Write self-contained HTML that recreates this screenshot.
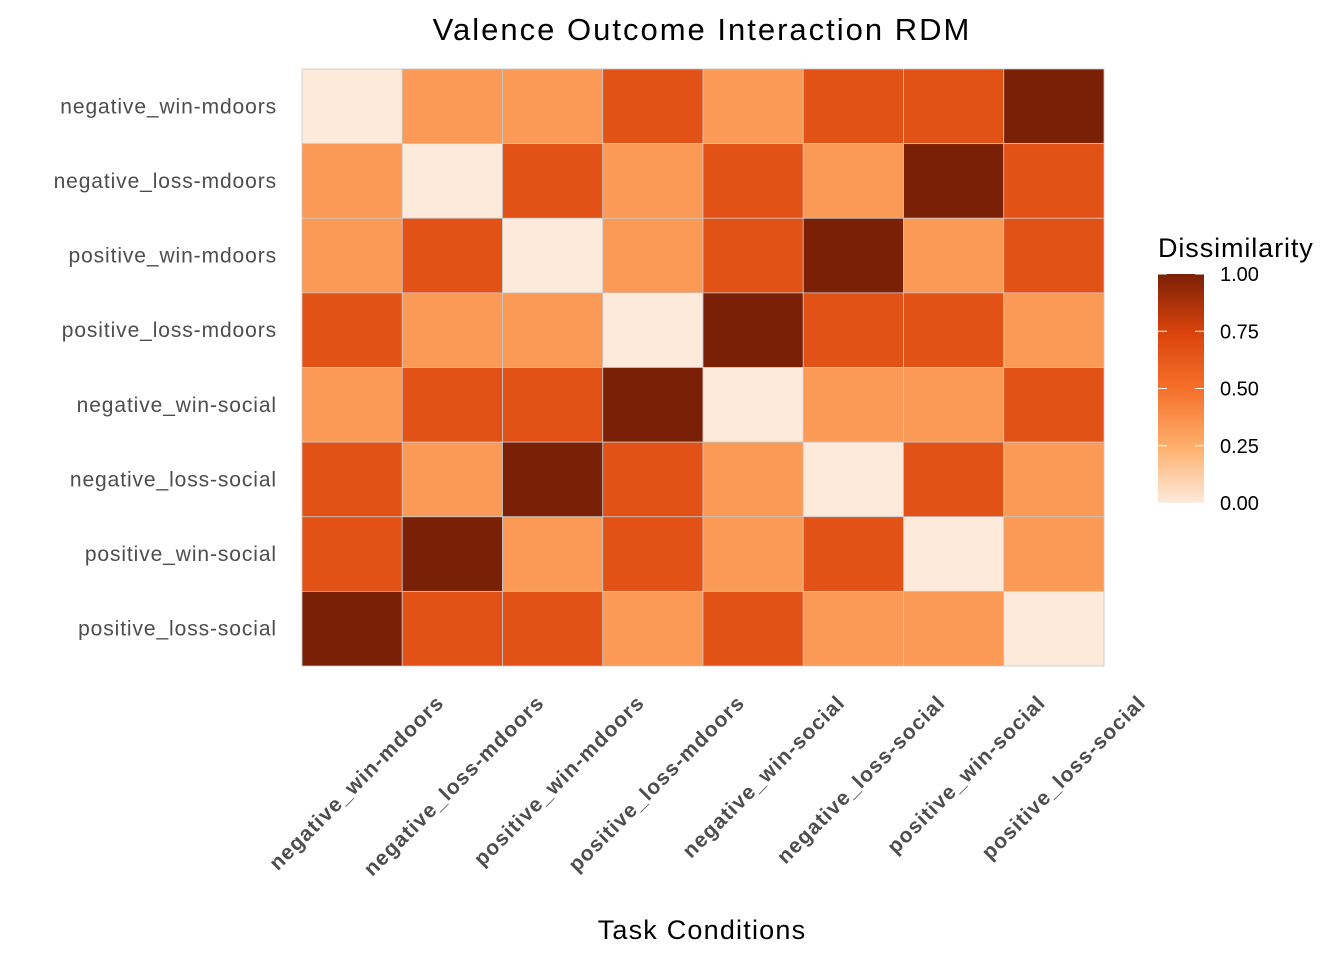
<!DOCTYPE html>
<html><head><meta charset="utf-8">
<style>
html,body{margin:0;padding:0;background:#fff;}
svg text{font-family:"Liberation Sans",Arial,sans-serif;}
</style></head>
<body>
<svg id="chart" width="1344" height="960" viewBox="0 0 1344 960">
<defs>
<linearGradient id="cbar" x1="0" y1="1" x2="0" y2="0">
<stop offset="0" stop-color="#fdeadb"/>
<stop offset="0.25" stop-color="#fdae6b"/>
<stop offset="0.5" stop-color="#f6702a"/>
<stop offset="0.75" stop-color="#d9420b"/>
<stop offset="1" stop-color="#7a2006"/>
</linearGradient>
</defs>
<text x="702" y="40" text-anchor="middle" font-size="31" letter-spacing="2" fill="#000">Valence Outcome Interaction RDM</text>
<g id="cells"></g>
<g id="ylabels"></g>
<g id="xlabels"></g>
<text x="702" y="939" text-anchor="middle" font-size="27" letter-spacing="1.2" fill="#000">Task Conditions</text>
<g>
<text x="1158" y="257" font-size="27" letter-spacing="0.9" fill="#000">Dissimilarity</text>
<rect x="1158" y="274" width="46" height="229" fill="url(#cbar)"/>
<g id="cticks"></g>
</g>
</svg>
<script>
const labels = ["negative_win-mdoors","negative_loss-mdoors","positive_win-mdoors","positive_loss-mdoors","negative_win-social","negative_loss-social","positive_win-social","positive_loss-social"];
const values = [
[0,.33,.33,.67,.33,.67,.67,1],
[.33,0,.67,.33,.67,.33,1,.67],
[.33,.67,0,.33,.67,1,.33,.67],
[.67,.33,.33,0,1,.67,.67,.33],
[.33,.67,.67,1,0,.33,.33,.67],
[.67,.33,1,.67,.33,0,.67,.33],
[.67,1,.33,.67,.33,.67,0,.33],
[1,.67,.67,.33,.67,.33,.33,0]
];
const legendTicks = [0,0.25,0.5,0.75,1];
const legendTickLabels = ["0.00","0.25","0.50","0.75","1.00"];

const NS="http://www.w3.org/2000/svg";
const X0=302,X1=1104,Y0=69,Y1=666;
const cw=(X1-X0)/labels.length, ch=(Y1-Y0)/labels.length;
const xPos=i=>X0+i*cw, yPos=i=>Y0+i*ch;
const stops=[[0,[253,234,219]],[0.25,[253,174,107]],[0.5,[246,112,42]],[0.75,[217,66,11]],[1,[122,32,6]]];
function color(v){
  for(let k=1;k<stops.length;k++){ if(v<=stops[k][0]){const a=stops[k-1],b=stops[k];const t=(v-a[0])/(b[0]-a[0]);
    const c=a[1].map((x,j)=>Math.round(x+(b[1][j]-x)*t));return `rgb(${c})`;}}
  return "rgb(122,32,6)";
}
const cells=document.getElementById('cells');
values.forEach((row,r)=>row.forEach((v,c)=>{
  const el=document.createElementNS(NS,'rect');
  el.setAttribute('x',xPos(c));el.setAttribute('y',yPos(r));el.setAttribute('width',cw);el.setAttribute('height',ch);
  el.setAttribute('fill',color(v));el.setAttribute('stroke','#c8c8c8');el.setAttribute('stroke-width','0.8');
  
  
  cells.appendChild(el);
}));
const yl=document.getElementById('ylabels');
labels.forEach((l,i)=>{
  const t=document.createElementNS(NS,'text');
  t.setAttribute('x',277);t.setAttribute('y',yPos(i)+ch/2+7);t.setAttribute('text-anchor','end');
  t.setAttribute('font-size','21');t.setAttribute('letter-spacing','0.9');t.setAttribute('fill','#4d4d4d');t.textContent=l;
  
  
  yl.appendChild(t);
});
const xl=document.getElementById('xlabels');
labels.forEach((l,i)=>{
  const t=document.createElementNS(NS,'text');
  const ax=xPos(i)+cw/2+93, ay=704;
  t.setAttribute('x',ax);t.setAttribute('y',ay);t.setAttribute('text-anchor','end');
  t.setAttribute('transform',`rotate(-45 ${ax} ${ay})`);
  t.setAttribute('font-size','21');t.setAttribute('letter-spacing','1.1');t.setAttribute('font-weight','bold');t.setAttribute('fill','#4d4d4d');t.textContent=l;
  
  
  xl.appendChild(t);
});
const ct=document.getElementById('cticks');
legendTicks.forEach((v,i)=>{
  const y=503-v*229;
  [[1158,1167],[1195,1204]].forEach(([a,b])=>{
    const ln=document.createElementNS(NS,'line');
    ln.setAttribute('x1',a);ln.setAttribute('x2',b);ln.setAttribute('y1',y);ln.setAttribute('y2',y);
    ln.setAttribute('stroke','#fff');ln.setAttribute('stroke-width','1');
    
    
    ct.appendChild(ln);
  });
  const t=document.createElementNS(NS,'text');
  t.setAttribute('x',1220);t.setAttribute('y',y+7);t.setAttribute('font-size','20');t.setAttribute('fill','#000');
  t.textContent=legendTickLabels[i];
  
  
  ct.appendChild(t);
});
</script>
</body></html>
